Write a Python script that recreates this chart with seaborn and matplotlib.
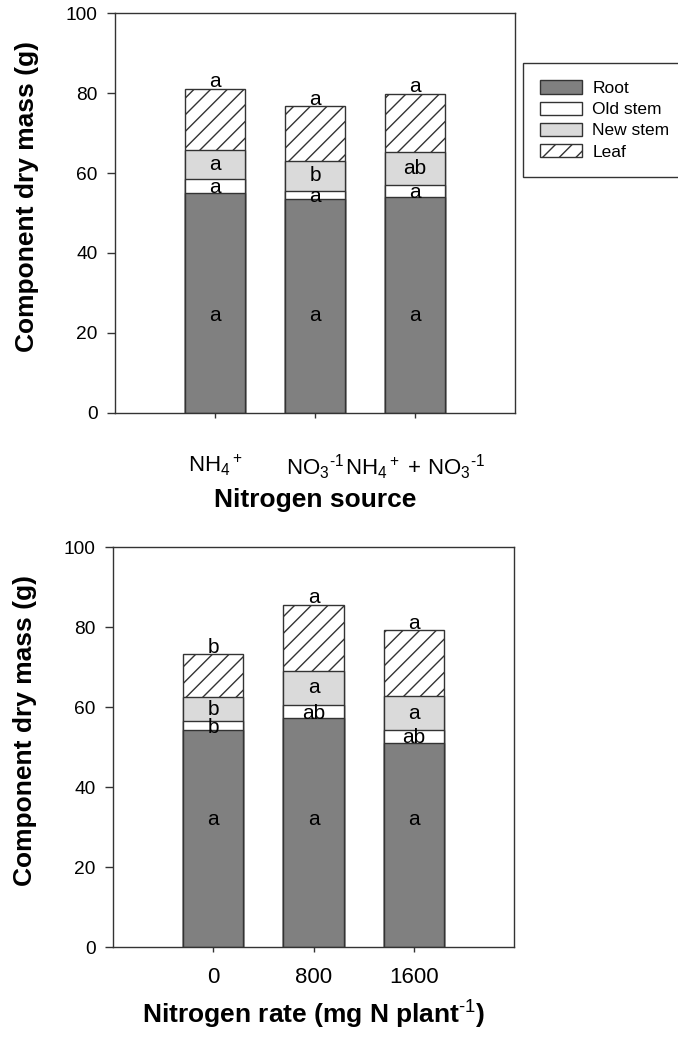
import matplotlib
matplotlib.use("Agg")
import matplotlib.pyplot as plt
from matplotlib.patches import Patch
import pandas as pd
import seaborn as sns

# ---- data ----
src_labels = [r"NH$_4$$^+$", r"NO$_3$$^{\text{-1}}$",
              r"NH$_4$$^+$ + NO$_3$$^{\text{-1}}$"]
src_root = [55.0, 53.4, 54.0]
src_old = [3.5, 2.2, 3.0]
src_new = [7.2, 7.4, 8.3]
src_leaf = [15.3, 13.7, 14.5]
src_let_root = ["a", "a", "a"]
src_let_old = ["a", "a", "a"]
src_let_new = ["a", "b", "ab"]
src_let_leaf = ["a", "a", "a"]

rate_labels = ["0", "800", "1600"]
rate_root = [54.3, 57.2, 51.1]
rate_old = [2.2, 3.4, 3.2]
rate_new = [6.0, 8.5, 8.4]
rate_leaf = [10.7, 16.4, 16.5]
rate_let_root = ["a", "a", "a"]
rate_let_old = ["b", "ab", "ab"]
rate_let_new = ["b", "a", "a"]
rate_let_leaf = ["b", "a", "a"]

components = ["Root", "Old stem", "New stem", "Leaf"]
colors = ["#808080", "white", "#dadada", "white"]
hatches = [None, None, None, "//"]

sns.set_style("white")
plt.rcParams["font.family"] = ["Liberation Sans", "DejaVu Sans"]
plt.rcParams["mathtext.fontset"] = "custom"
plt.rcParams["mathtext.rm"] = "Liberation Sans"
plt.rcParams["mathtext.it"] = "Liberation Sans:italic"
plt.rcParams["mathtext.bf"] = "Liberation Sans:bold"
plt.rcParams["hatch.linewidth"] = 1.0
plt.rcParams["hatch.color"] = "#222222"
for k in ["text.color", "axes.labelcolor", "xtick.labelcolor", "ytick.labelcolor"]:
    plt.rcParams[k] = "black"

EDGE = "#333333"


def draw(ax, labels, root, old, new, leaf, lets, root_y):
    df = pd.DataFrame({"x": labels})
    df["c1"] = root
    df["c2"] = df["c1"] + old
    df["c3"] = df["c2"] + new
    df["c4"] = df["c3"] + leaf
    # draw cumulative bars from the tallest down so they stack
    for col, i in zip(["c4", "c3", "c2", "c1"], [3, 2, 1, 0]):
        sns.barplot(data=df, x="x", y=col, color=colors[i], saturation=1,
                    width=0.6, edgecolor=EDGE, linewidth=1.0,
                    hatch=hatches[i], errorbar=None, ax=ax)
    let_root, let_old, let_new, let_leaf = lets
    off = 1.4
    for k in range(len(labels)):
        ys = [root_y,
              (df["c1"][k] + df["c2"][k]) / 2 - 0.4,
              (df["c2"][k] + df["c3"][k]) / 2,
              df["c4"][k] + 1.8]
        for y, t in zip(ys, [let_root[k], let_old[k], let_new[k], let_leaf[k]]):
            ax.text(k, y - off, t, ha="center", va="baseline", fontsize=15)
    ax.set_xlim(-1, 3)
    ax.set_ylim(0, 100)
    ax.set_yticks([0, 20, 40, 60, 80, 100])
    for s in ax.spines.values():
        s.set_color(EDGE)
        s.set_linewidth(1.0)
    ax.tick_params(axis="y", direction="out", length=5.5, width=1,
                   color=EDGE, labelsize=13.8, pad=7, left=True)
    ax.tick_params(axis="x", direction="out", length=3.5, width=1,
                   color=EDGE, labelsize=16, bottom=True)


fig = plt.figure(figsize=(6.78, 10.41), dpi=100)
ax1 = fig.add_axes([115 / 678, 1 - 413 / 1041, 400 / 678, 400 / 1041])
ax2 = fig.add_axes([113 / 678, 1 - 947 / 1041, 401 / 678, 400 / 1041])

draw(ax1, src_labels, src_root, src_old, src_new, src_leaf,
     (src_let_root, src_let_old, src_let_new, src_let_leaf), 24.5)
draw(ax2, rate_labels, rate_root, rate_old, rate_new, rate_leaf,
     (rate_let_root, rate_let_old, rate_let_new, rate_let_leaf), 32.0)

ax1.tick_params(axis="x", pad=25)
ax2.tick_params(axis="x", pad=11)

for ax in (ax1, ax2):
    ax.set_ylabel("Component dry mass (g)", fontsize=19, fontweight="bold")
    ax.yaxis.set_label_coords(-0.19, 0.54)

ax1.set_xlabel("Nitrogen source", fontsize=19, fontweight="bold")
ax1.xaxis.set_label_coords(0.5, -0.188)
ax2.set_xlabel(r"Nitrogen rate (mg N plant$^{\mathbf{\text{-1}}}$)", fontsize=19,
               fontweight="bold")
ax2.xaxis.set_label_coords(0.5, -0.13)

handles = [Patch(facecolor=colors[i], edgecolor=EDGE, hatch=hatches[i],
                 linewidth=1.0) for i in range(4)]
fig.legend(handles, components, loc="upper left",
           bbox_to_anchor=(523 / 678, 1 - 63 / 1041), borderaxespad=0,
           fontsize=12.5, frameon=True, fancybox=False, edgecolor=EDGE,
           framealpha=1, handlelength=2.4, handleheight=0.8,
           labelspacing=0.32, borderpad=1.0, handletextpad=0.6)

fig.savefig("out.png", dpi=100)
